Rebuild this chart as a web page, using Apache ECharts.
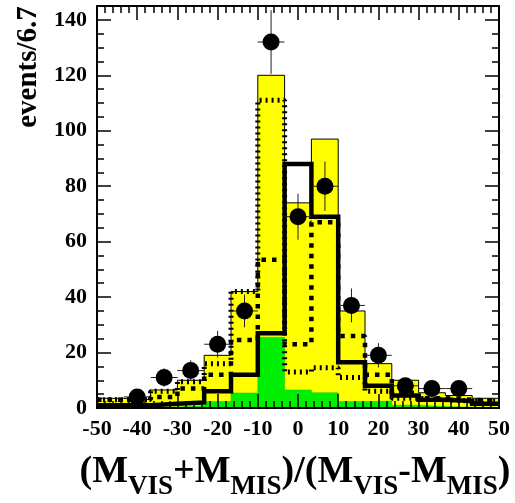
<!DOCTYPE html>
<html>
<head>
<meta charset="utf-8">
<script src="https://cdn.jsdelivr.net/npm/echarts/dist/echarts.min.js"></script>
<style>
html,body{margin:0;padding:0;background:#fff;}
#chart{width:515px;height:503px;}
</style>
</head>
<body>
<div id="chart"></div>
<script>
// 15 bins of width 100/15 between -50 and 50
var binLow = -50;
var binHigh = 50;
var nBins = 15;

// yellow filled MC histogram
var yellowVals = [3.5, 3, 6.5, 10, 19, 42, 120, 74, 97, 35, 16, 10, 5.5, 4.5, 3.5];
// green filled background
var greenVals = [0.2, 0.3, 0.4, 0.8, 2.3, 5.4, 25.5, 6.5, 5.5, 2.3, 2.5, 1, 0.5, 0.3, 0.2];
// thick solid line
var solidVals = [1, 1, 1.5, 2, 6, 12, 27, 88, 69, 16.5, 8, 4.5, 3, 2.5, 1.5];
// thick dashed (square dots) line
var dashVals = [3, 3, 4, 7, 12, 24.5, 53.5, 23, 67, 26, 12, 5.5, 3.5, 3, 2.5];
// thin hatched line
var hatchVals = [3, 3, 6, 9.5, 16, 42, 111, 13, 14.5, 11, 6, 3.5, 3, 2.5, 2.5];

// data points (bin centres -40 .. 40)
var dataX = [-40, -33.3, -26.7, -20, -13.3, -6.7, 0, 6.7, 13.3, 20, 26.7, 33.3, 40];
var dataY = [4, 11, 13.5, 23, 35, 132, 69, 80, 37, 19, 8, 7, 7];
var dataErr = [2, 3.3, 3.7, 4.8, 5.9, 11.5, 8.3, 8.9, 6.1, 4.4, 2.8, 2.6, 2.6];

var xTicks = [-50, -40, -30, -20, -10, 0, 10, 20, 30, 40, 50];
var yTicks = [0, 20, 40, 60, 80, 100, 120, 140];

var binW = (binHigh - binLow) / nBins;

// histogram -> step points at the bin edges
function stepData(vals){
	var pts = [];
	for (var i = 0; i < vals.length; i++) {
		pts.push([binLow + i * binW, vals[i]]);
	}
	pts.push([binHigh, vals[vals.length - 1]]);
	return pts;
}

var errData = [];
for (var k = 0; k < dataX.length; k++) {
	errData.push([dataX[k], dataY[k], dataErr[k], binW / 2]);
}
var ptData = [];
for (var k = 0; k < dataX.length; k++) {
	ptData.push([dataX[k], dataY[k]]);
}

var serif = '"Liberation Serif", "Times New Roman", serif';
var frameLine = {show: true, onZero: false, lineStyle: {color: '#000', width: 2}};

function xAx(pos){
	return {
		type: 'value', position: pos, min: binLow, max: binHigh, interval: 10, z: 3,
		axisLine: frameLine,
		axisTick: {show: true, inside: true, length: 14, lineStyle: {color: '#000', width: 1.5}},
		minorTick: {show: true, splitNumber: 5, length: 7, lineStyle: {color: '#000', width: 1.5}},
		splitLine: {show: false},
		axisLabel: pos == 'bottom' ? {
			show: true, margin: 10, color: '#000', fontFamily: serif, fontWeight: 'bold', fontSize: 22
		} : {show: false}
	};
}
function yAx(pos, step, len, lbl){
	return {
		type: 'value', position: pos, min: 0, max: 145, interval: step, z: 3,
		axisLine: frameLine,
		axisTick: {show: true, inside: true, length: len, lineStyle: {color: '#000', width: 1.5}},
		splitLine: {show: false},
		axisLabel: lbl ? {
			show: true, margin: 10, color: '#000', fontFamily: serif, fontWeight: 'bold', fontSize: 22,
			formatter: function(v){ return yTicks.indexOf(v) >= 0 ? String(v) : ''; }
		} : {show: false}
	};
}

var myChart = echarts.init(document.getElementById('chart'));
var option = {
	animation: false,
	backgroundColor: '#fff',
	grid: {left: 97, top: 6, width: 402, height: 402},
	xAxis: [xAx('bottom'), xAx('top')],
	yAxis: [yAx('left', 20, 14, true), yAx('left', 5, 7, false), yAx('right', 20, 14, false), yAx('right', 5, 7, false)],
	graphic: [
		{
			type: 'text', x: 29, y: 67, rotation: Math.PI / 2,
			style: {text: 'events/6.7', font: 'bold 29px ' + serif, fill: '#000', textAlign: 'center', textVerticalAlign: 'middle'}
		},
		{
			type: 'text', x: 295, y: 472,
			style: {
				text: '{m|(M}{s|VIS}{m|+M}{s|MIS}{m|)/(M}{s|VIS}{m|-M}{s|MIS}{m|)}',
				textAlign: 'center', textVerticalAlign: 'middle', fill: '#000',
				rich: {
					m: {fontFamily: serif, fontWeight: 'bold', fontSize: 38, lineHeight: 40},
					s: {fontFamily: serif, fontWeight: 'bold', fontSize: 27, lineHeight: 26, padding: [30, 0, 0, 0]}
				}
			}
		}
	],
	series: [
		{
			name: 'yellow', type: 'line', step: 'end', z: 1, symbol: 'none',
			data: stepData(yellowVals),
			lineStyle: {color: '#000', width: 1},
			areaStyle: {color: '#ffff00', opacity: 1}
		},
		{
			name: 'green', type: 'line', step: 'end', z: 2, symbol: 'none',
			data: stepData(greenVals),
			lineStyle: {color: '#00cc00', width: 0.5},
			areaStyle: {color: '#00ee00', opacity: 1}
		},
		{
			name: 'hatch', type: 'line', step: 'end', z: 4, symbol: 'none',
			data: stepData(hatchVals),
			lineStyle: {color: '#000', width: 5, type: [2, 4], cap: 'butt'}
		},
		{
			name: 'dashed', type: 'line', step: 'end', z: 5, symbol: 'none',
			data: stepData(dashVals),
			lineStyle: {color: '#000', width: 4.5, type: [4.5, 6], cap: 'butt'}
		},
		{
			name: 'solid', type: 'line', step: 'end', z: 6, symbol: 'none',
			data: stepData(solidVals),
			lineStyle: {color: '#000', width: 4.5, join: 'miter'}
		},
		{
			name: 'errors', type: 'custom', z: 7,
			data: errData,
			renderItem: function(params, api){
				var x = api.value(0), y = api.value(1), e = api.value(2), h = api.value(3);
				var a = api.coord([x, y - e]), b = api.coord([x, y + e]);
				var c = api.coord([x - h, y]), d = api.coord([x + h, y]);
				var st = {stroke: '#222', lineWidth: 1};
				return {
					type: 'group',
					children: [
						{type: 'line', shape: {x1: a[0], y1: a[1], x2: b[0], y2: b[1]}, style: st},
						{type: 'line', shape: {x1: c[0], y1: c[1], x2: d[0], y2: d[1]}, style: st}
					]
				};
			}
		},
		{
			name: 'data', type: 'scatter', z: 8,
			data: ptData,
			symbol: 'circle', symbolSize: 17,
			itemStyle: {color: '#000', opacity: 1}
		}
	]
};
myChart.setOption(option);
</script>
</body>
</html>
